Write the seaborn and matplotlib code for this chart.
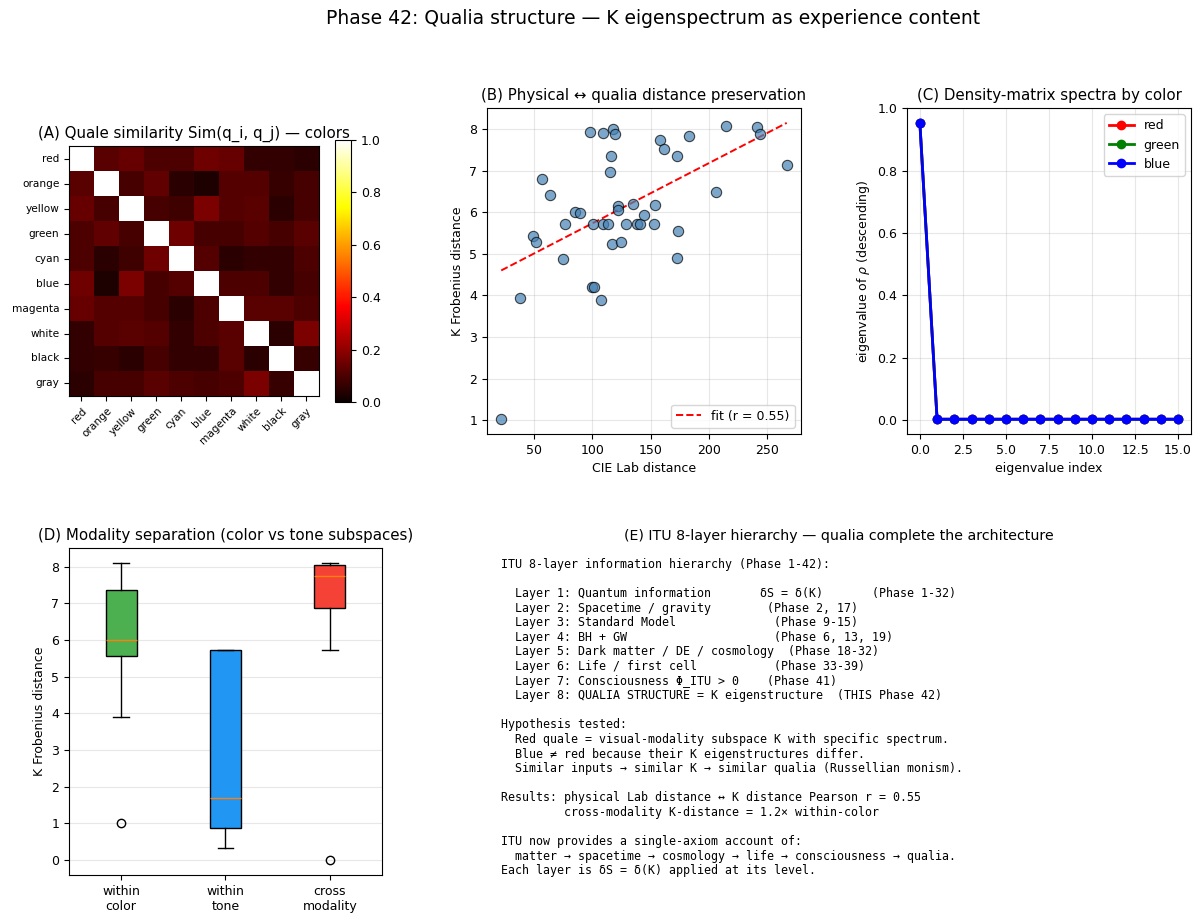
import numpy as np
import pandas as pd
import seaborn as sns
import matplotlib
matplotlib.use("Agg")
import matplotlib.pyplot as plt

# ---- data ----
color_names = ["red", "orange", "yellow", "green", "cyan", "blue",
               "magenta", "white", "black", "gray"]

sim_matrix = [
    [1.00, 0.12, 0.14, 0.10, 0.10, 0.15, 0.14, 0.06, 0.06, 0.05],
    [0.12, 1.00, 0.09, 0.13, 0.05, 0.03, 0.11, 0.11, 0.07, 0.09],
    [0.14, 0.09, 1.00, 0.09, 0.08, 0.17, 0.11, 0.12, 0.05, 0.09],
    [0.10, 0.13, 0.09, 1.00, 0.15, 0.09, 0.09, 0.11, 0.09, 0.12],
    [0.10, 0.05, 0.08, 0.15, 1.00, 0.11, 0.05, 0.06, 0.06, 0.10],
    [0.15, 0.03, 0.17, 0.09, 0.11, 1.00, 0.10, 0.10, 0.06, 0.09],
    [0.14, 0.11, 0.11, 0.09, 0.05, 0.10, 1.00, 0.12, 0.12, 0.10],
    [0.06, 0.11, 0.12, 0.11, 0.06, 0.10, 0.12, 1.00, 0.05, 0.17],
    [0.06, 0.07, 0.05, 0.09, 0.06, 0.06, 0.12, 0.05, 1.00, 0.07],
    [0.05, 0.09, 0.09, 0.12, 0.10, 0.09, 0.10, 0.17, 0.07, 1.00],
]

lab_dist = [21.8, 37.6, 49.1, 51.7, 56.6, 63.8, 75.0, 76.4, 85.3, 89.4,
            98.0, 100.6, 99.7, 101.4, 107.5, 109.5, 109.5, 113.8, 117.8, 119.3,
            115.8, 114.9, 117.2, 121.8, 122.4, 124.4, 129.0, 135.1, 138.2, 141.1,
            144.5, 152.6, 153.7, 158.0, 161.5, 172.7, 173.9, 172.7, 182.8, 206.0,
            214.7, 241.1, 243.7, 267.0]
k_dist = [1.02, 3.93, 5.43, 5.30, 6.80, 6.41, 4.89, 5.72, 6.02, 5.99,
          7.94, 5.72, 4.20, 4.20, 3.88, 7.92, 5.72, 5.72, 8.01, 7.89,
          7.37, 6.97, 5.23, 6.16, 6.07, 5.30, 5.72, 6.20, 5.72, 5.72,
          5.95, 5.72, 6.17, 7.75, 7.53, 7.35, 5.56, 4.91, 7.85, 6.49,
          8.09, 8.07, 7.88, 7.15]
fit_r = 0.55

eig_index = list(range(16))
eig_red = [0.953, 0.003, 0.003, 0.003, 0.003, 0.003, 0.003, 0.003,
           0.003, 0.003, 0.003, 0.003, 0.003, 0.003, 0.003, 0.003]
eig_green = [0.953, 0.003, 0.003, 0.003, 0.003, 0.003, 0.003, 0.003,
             0.003, 0.003, 0.003, 0.003, 0.003, 0.003, 0.003, 0.003]
eig_blue = [0.953, 0.003, 0.003, 0.003, 0.003, 0.003, 0.003, 0.003,
            0.003, 0.003, 0.003, 0.003, 0.003, 0.003, 0.003, 0.003]

box_labels = ["within\ncolor", "within\ntone", "cross\nmodality"]
box_med = [6.00, 1.68, 7.75]
box_q1 = [5.55, 0.87, 6.87]
box_q3 = [7.37, 5.73, 8.04]
box_lo = [3.90, 0.32, 5.73]
box_hi = [8.10, 5.73, 8.10]
box_fliers = [[1.0], [], [0.0]]
box_colors = ["#4CAF50", "#2196F3", "#F44336"]

info_lines = [
    "ITU 8-layer information hierarchy (Phase 1-42):",
    "",
    "  Layer 1: Quantum information       δS = δ(K)       (Phase 1-32)",
    "  Layer 2: Spacetime / gravity        (Phase 2, 17)",
    "  Layer 3: Standard Model              (Phase 9-15)",
    "  Layer 4: BH + GW                     (Phase 6, 13, 19)",
    "  Layer 5: Dark matter / DE / cosmology  (Phase 18-32)",
    "  Layer 6: Life / first cell           (Phase 33-39)",
    "  Layer 7: Consciousness Φ_ITU > 0    (Phase 41)",
    "  Layer 8: QUALIA STRUCTURE = K eigenstructure  (THIS Phase 42)",
    "",
    "Hypothesis tested:",
    "  Red quale = visual-modality subspace K with specific spectrum.",
    "  Blue ≠ red because their K eigenstructures differ.",
    "  Similar inputs → similar K → similar qualia (Russellian monism).",
    "",
    "Results: physical Lab distance ↔ K distance Pearson r = 0.55",
    "         cross-modality K-distance = 1.2× within-color",
    "",
    "ITU now provides a single-axiom account of:",
    "  matter → spacetime → cosmology → life → consciousness → qualia.",
    "Each layer is δS = δ(K) applied at its level.",
]

plt.rcParams.update({
    "font.size": 9,
    "axes.titlesize": 10.8,
    "axes.labelsize": 9,
    "xtick.labelsize": 9,
    "ytick.labelsize": 9,
    "legend.fontsize": 9,
})

# ---- figure ----
fig = plt.figure(figsize=(12, 9.19), dpi=100)
fig.suptitle("Phase 42: Qualia structure — K eigenspectrum as experience content",
             fontsize=13.5, x=0.544, y=0.99, va="top")

ax_a = fig.add_axes([0.0575, 0.5691, 0.2083, 0.2720])
cax = fig.add_axes([0.2792, 0.5626, 0.0135, 0.2851])
ax_b = fig.add_axes([0.4058, 0.5277, 0.2617, 0.3547])
ax_c = fig.add_axes([0.7558, 0.5277, 0.2367, 0.3547])
ax_d = fig.add_axes([0.0575, 0.0479, 0.2608, 0.3558])
ax_e = fig.add_axes([0.4058, 0.0479, 0.5867, 0.3558])

# (A) similarity heatmap
df_sim = pd.DataFrame(sim_matrix, index=color_names, columns=color_names)
sns.heatmap(df_sim, ax=ax_a, cmap="hot", vmin=0, vmax=1, square=True,
            cbar_ax=cax)
for sp in ax_a.spines.values():
    sp.set_visible(True)
    sp.set_linewidth(0.8)
ax_a.tick_params(labelsize=7.6, length=3.5)
plt.setp(ax_a.get_xticklabels(), rotation=45, ha="right", rotation_mode="anchor")
plt.setp(ax_a.get_yticklabels(), rotation=0)
ax_a.set_xlabel("")
ax_a.set_ylabel("")
ax_a.set_title("(A) Quale similarity Sim(q_i, q_j) — colors")
cbar = ax_a.collections[0].colorbar
cbar.outline.set_visible(True)
cbar.outline.set_linewidth(0.8)
cbar.set_ticks([0.0, 0.2, 0.4, 0.6, 0.8, 1.0])
cbar.ax.tick_params(labelsize=9)

# (B) physical vs qualia distance
sns.scatterplot(x=lab_dist, y=k_dist, ax=ax_b, color="steelblue", s=55,
                alpha=0.7, edgecolor="black", linewidth=0.8, zorder=3)
coef = np.polyfit(lab_dist, k_dist, 1)
xs = np.array([min(lab_dist), max(lab_dist)])
ax_b.plot(xs, np.polyval(coef, xs), "r--", lw=1.4,
          label=f"fit (r = {fit_r:.2f})")
ax_b.set_xlabel("CIE Lab distance")
ax_b.set_ylabel("K Frobenius distance")
ax_b.set_title("(B) Physical ↔ qualia distance preservation")
ax_b.legend(loc="lower right")
ax_b.grid(alpha=0.3)

# (C) density-matrix spectra
for vals, c in [(eig_red, "red"), (eig_green, "green"), (eig_blue, "blue")]:
    ax_c.plot(eig_index, vals, "o-", color=c, lw=2, ms=6, label=c)
ax_c.set_xticks(np.arange(0, 15.1, 2.5))
ax_c.set_xlabel("eigenvalue index")
ax_c.set_ylabel(r"eigenvalue of $\rho$ (descending)")
ax_c.set_title("(C) Density-matrix spectra by color")
ax_c.legend(loc="upper right")
ax_c.grid(alpha=0.3)

# (D) modality separation boxes
stats = []
for i in range(3):
    stats.append(dict(label=box_labels[i], med=box_med[i], q1=box_q1[i],
                      q3=box_q3[i], whislo=box_lo[i], whishi=box_hi[i],
                      fliers=box_fliers[i]))
bp = ax_d.bxp(stats, patch_artist=True)
for patch, c in zip(bp["boxes"], box_colors):
    patch.set_facecolor(c)
ax_d.set_ylabel("K Frobenius distance")
ax_d.set_title("(D) Modality separation (color vs tone subspaces)")
ax_d.grid(axis="y", alpha=0.3)

# (E) text panel
ax_e.axis("off")
ax_e.set_title("(E) ITU 8-layer hierarchy — qualia complete the architecture",
               fontsize=10.2)
ax_e.text(0.02, 0.97, "\n".join(info_lines), transform=ax_e.transAxes,
          va="top", ha="left", fontsize=8.4, linespacing=1.16,
          family=["DejaVu Sans Mono", "DejaVu Sans"])

fig.savefig("out.png", dpi=100)
